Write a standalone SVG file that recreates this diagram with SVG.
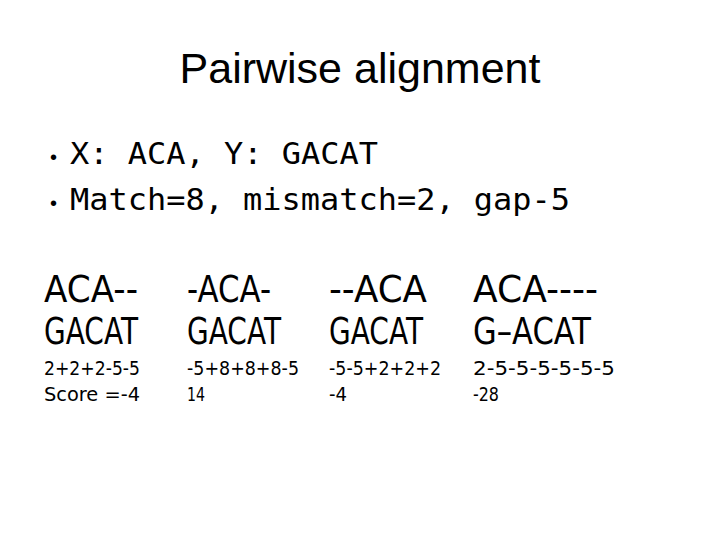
<svg xmlns="http://www.w3.org/2000/svg" width="720" height="540" viewBox="0 0 720 540">
<style>
.t{font-family:"Liberation Sans",Arial,sans-serif;font-size:43px;fill:#000}
.b{font-family:"DejaVu Sans Mono",monospace;font-size:31px;fill:#000}
.d{font-family:"Liberation Sans",sans-serif;font-size:20px;fill:#000}
.big{font-family:"DejaVu Sans","Liberation Sans",sans-serif;font-size:38px;fill:#000}
.sm{font-family:"DejaVu Sans","Liberation Sans",sans-serif;font-size:19px;fill:#000}
</style>
<rect width="720" height="540" fill="#fff"/>
<text class="t" x="360" y="83" text-anchor="middle">Pairwise alignment</text>
<text class="d" x="50" y="164">•</text>
<text class="b" x="70" y="164" textLength="308" lengthAdjust="spacingAndGlyphs">X: ACA, Y: GACAT</text>
<text class="d" x="50" y="210">•</text>
<text class="b" x="70" y="210" textLength="500" lengthAdjust="spacingAndGlyphs">Match=8, mismatch=2, gap-5</text>
<g class="big">
<text x="44" y="302" textLength="94" lengthAdjust="spacingAndGlyphs">ACA--</text>
<text x="44" y="344" textLength="94" lengthAdjust="spacingAndGlyphs">GACAT</text>
<text x="187" y="302" textLength="84" lengthAdjust="spacingAndGlyphs">-ACA-</text>
<text x="187" y="344" textLength="94" lengthAdjust="spacingAndGlyphs">GACAT</text>
<text x="329" y="302" textLength="98" lengthAdjust="spacingAndGlyphs">--ACA</text>
<text x="329" y="344" textLength="94" lengthAdjust="spacingAndGlyphs">GACAT</text>
<text x="473" y="302" textLength="125" lengthAdjust="spacingAndGlyphs">ACA----</text>
<text x="473" y="344" textLength="118" lengthAdjust="spacingAndGlyphs">G–ACAT</text>
</g>
<g class="sm">
<text x="44" y="375" textLength="96" lengthAdjust="spacingAndGlyphs">2+2+2-5-5</text>
<text x="44" y="401" textLength="96" lengthAdjust="spacingAndGlyphs">Score =-4</text>
<text x="187" y="375" textLength="112" lengthAdjust="spacingAndGlyphs">-5+8+8+8-5</text>
<text x="187" y="401" textLength="18" lengthAdjust="spacingAndGlyphs">14</text>
<text x="329" y="375" textLength="112" lengthAdjust="spacingAndGlyphs">-5-5+2+2+2</text>
<text x="329" y="401" textLength="18" lengthAdjust="spacingAndGlyphs">-4</text>
<text x="473" y="375" textLength="142" lengthAdjust="spacingAndGlyphs">2-5-5-5-5-5-5</text>
<text x="473" y="401" textLength="26" lengthAdjust="spacingAndGlyphs">-28</text>
</g>
</svg>
